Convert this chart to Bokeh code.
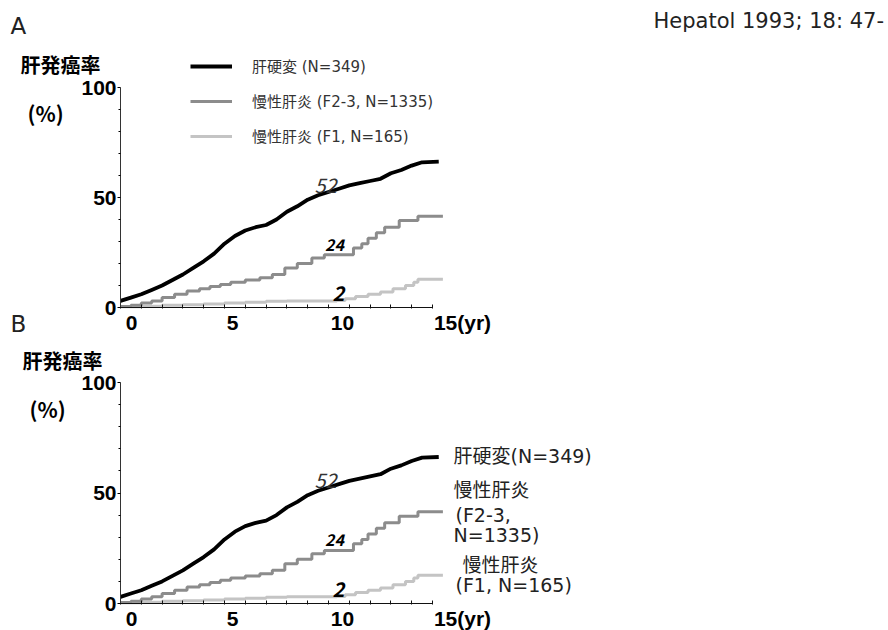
from bokeh.plotting import figure
from bokeh.models import Range1d, FixedTicker, Label, Legend, LegendItem, LinearAxis
from bokeh.layouts import column
from bokeh.embed import file_html
from bokeh.resources import INLINE
from bokeh.core.properties import value

# ---------------- data ----------------
years_lc = [0, 0.5, 1.0, 1.5, 2.0, 2.5, 3.0, 3.5, 4.0, 4.5, 5.0, 5.5, 6.0, 6.5, 7.0,
            7.5, 8.0, 8.5, 9.0, 9.5, 10.0, 10.5, 11.0, 11.5, 12.0, 12.5, 13.0, 13.5,
            14.0, 14.5, 15.3]
rate_lc = [3, 4.5, 6, 8, 10, 12.5, 15, 18, 21, 24.5, 29, 32.5, 35, 36.5, 37.5,
           40, 43.5, 46, 49, 51, 52.5, 54, 55.5, 56.5, 57.5, 58.5, 61, 62.5,
           64.5, 66, 66.3]

years_f23 = [0, 0.5, 1.0, 1.5, 2.0, 2.6, 3.2, 3.8, 4.3, 4.8, 5.3, 6.0, 6.7, 7.3, 7.9,
             8.5, 9.2, 9.8, 10.9, 11.2, 11.6, 11.9, 12.3, 12.7, 13.4, 14.3, 15.5]
rate_f23 = [0.5, 1, 2, 3, 4.5, 6, 7.5, 8.5, 9.5, 10.5, 11.5, 12.5, 13.5, 15, 18,
            20, 22.5, 24, 24, 27, 29, 31.5, 34, 36.5, 39.5, 41.5, 41.5]

years_f1 = [0, 1, 2, 3, 4, 5, 6, 7, 8, 9, 10.4, 10.8, 11.3, 11.9, 12.5, 13.1, 13.7,
            14.1, 14.3, 15.5]
rate_f1 = [0.3, 0.6, 1, 1.3, 1.6, 2, 2.4, 2.8, 3, 3, 3.2, 4, 5, 6, 7, 8.5, 10,
           11.5, 12.8, 12.8]

legend_names = ["肝硬変 (N=349)", "慢性肝炎 (F2-3, N=1335)", "慢性肝炎 (F1, N=165)"]
ten_year_x = [10, 10, 10]
ten_year_rates = [52, 24, 2]
x_ticks = [0, 5, 10, 15]
x_minor_ticks = list(range(0, 16))
x_tick_labels = ["0", "5", "10", "15(yr)"]
y_ticks = [0, 50, 100]
y_minor_ticks = [10, 20, 30, 40, 60, 70, 80, 90]
y_tick_labels = ["0", "50", "100"]

# ---------------- styling ----------------
FONT = "Noto Sans CJK JP"
FONT_MIX = "DejaVu Sans, Noto Sans CJK JP"
TICK_FONT = "Liberation Sans"
W = 888
X0_PX = 120          # page x of year 0
SX = 20.8            # px per year
X_LABEL_SHIFT = [11, 8, 14, 30]   # px shift of x tick label centres
C_LC = "#000000"
C_F23 = "#8c8c8c"
C_F1 = "#c4c4c4"
TXT = "#222222"


def make_panel(height, y0_fig, sy):
    # frame fills the whole canvas; axes are pinned at 0 with fixed_location
    x_start = -X0_PX / SX
    x_end = (W - X0_PX) / SX
    y_start = -(height - y0_fig) / sy
    y_end = y0_fig / sy
    p = figure(width=W, height=height, output_backend="svg", toolbar_location=None,
               x_range=Range1d(x_start, x_end), y_range=Range1d(y_start, y_end),
               min_border=0)
    p.outline_line_color = None
    p.xgrid.visible = False
    p.ygrid.visible = False
    p.background_fill_color = "white"
    p.border_fill_color = "white"

    # x axis: line and tick marks
    xa = p.xaxis[0]
    xa.fixed_location = 0
    xa.ticker = FixedTicker(ticks=[], minor_ticks=x_minor_ticks)
    xa.bounds = (0, 15)
    xa.axis_line_color = "#111111"
    xa.minor_tick_in = 3
    xa.minor_tick_out = 1
    xa.minor_tick_line_color = "#111111"

    # x tick labels, set slightly right of their ticks as in the original
    label_pos = [t + s / SX for t, s in zip(x_ticks, X_LABEL_SHIFT)]
    xl = LinearAxis(fixed_location=0, ticker=FixedTicker(ticks=label_pos, minor_ticks=[]),
                    major_label_overrides={pos: l for pos, l in zip(label_pos, x_tick_labels)},
                    axis_line_color=None, major_tick_line_color=None,
                    minor_tick_line_color=None, major_tick_out=0, major_tick_in=0,
                    major_label_standoff=3,
                    major_label_text_font=TICK_FONT, major_label_text_font_style="bold",
                    major_label_text_font_size="21px", major_label_text_color="#000000")
    p.add_layout(xl, "below")

    ya = p.yaxis[0]
    ya.fixed_location = 0
    ya.ticker = FixedTicker(ticks=y_ticks, minor_ticks=y_minor_ticks)
    ya.major_label_overrides = {t: l for t, l in zip(y_ticks, y_tick_labels)}
    ya.bounds = (0, 100)
    ya.axis_line_color = "#333333"
    ya.major_tick_in = 0
    ya.major_tick_out = 3
    ya.minor_tick_in = 0
    ya.minor_tick_out = 2
    ya.major_label_text_font = TICK_FONT
    ya.major_label_text_font_style = "bold"
    ya.major_label_text_font_size = "21px"
    ya.major_label_text_color = "#000000"
    ya.major_label_standoff = 1

    r_f1 = p.step(years_f1, rate_f1, mode="after", line_color=C_F1, line_width=3)
    r_f23 = p.step(years_f23, rate_f23, mode="after", line_color=C_F23, line_width=3)
    r_lc = p.line(years_lc, rate_lc, line_color=C_LC, line_width=3.8)

    p.text(x=ten_year_x[:1], y=ten_year_rates[:1], text=[str(ten_year_rates[0])],
           x_offset=-3, y_offset=-8, text_align="center", text_baseline="middle",
           text_font=value(FONT), text_font_style="italic", text_font_size="20px",
           text_color="#333333")
    p.text(x=ten_year_x[1:2], y=ten_year_rates[1:2], text=[str(ten_year_rates[1])],
           x_offset=6, y_offset=-10, text_align="center", text_baseline="middle",
           text_font=value(FONT), text_font_style="bold italic", text_font_size="16px",
           text_color="#000000")
    p.text(x=ten_year_x[2:], y=ten_year_rates[2:], text=[str(ten_year_rates[2])],
           x_offset=10, y_offset=-10, text_align="center", text_baseline="middle",
           text_font=value(FONT), text_font_style="bold italic", text_font_size="20px",
           text_color="#000000")
    return p, (r_lc, r_f23, r_f1)


def add_label(p, fig_top_page, y0_fig, sy, px, py, text, size, style="normal",
              color=TXT, font=FONT_MIX):
    # page pixel position -> data coordinates of this panel
    xd = (px - X0_PX) / SX
    yd = (y0_fig - (py - fig_top_page)) / sy
    p.add_layout(Label(x=xd, y=yd, text=text, text_font=font, text_font_size=size,
                       text_font_style=style, text_color=color, text_align="left",
                       text_baseline="middle"))


# ---------------- panel A ----------------
HA, Y0A, SYA = 340, 307, 2.2
pA, rendA = make_panel(HA, Y0A, SYA)
legend = Legend(items=[LegendItem(label=n, renderers=[r]) for n, r in zip(legend_names, rendA)],
                location=(190, HA - 146), glyph_width=42, glyph_height=20,
                label_height=20, label_standoff=20, spacing=14, padding=0, margin=0,
                border_line_color=None, background_fill_alpha=0,
                label_text_font=FONT_MIX, label_text_font_size="15px",
                label_text_color="#333333")
pA.add_layout(legend)
add_label(pA, 0, Y0A, SYA, 10, 25, "A", "23px")
add_label(pA, 0, Y0A, SYA, 653, 20, "Hepatol 1993; 18: 47-", "21px")
add_label(pA, 0, Y0A, SYA, 20, 64, "肝発癌率", "20px", "bold", "#000000", FONT)
add_label(pA, 0, Y0A, SYA, 27, 112, "(%)", "21px", "bold", "#000000", FONT)
add_label(pA, 0, Y0A, SYA, 10, 323, "B", "23px")

# ---------------- panel B ----------------
HB, Y0B, SYB = 290, 263, 2.21
pB, rendB = make_panel(HB, Y0B, SYB)
add_label(pB, HA, Y0B, SYB, 22, 360, "肝発癌率", "20px", "bold", "#000000", FONT)
add_label(pB, HA, Y0B, SYB, 29, 408, "(%)", "21px", "bold", "#000000", FONT)
add_label(pB, HA, Y0B, SYB, 453, 455, "肝硬変(N=349)", "19px")
add_label(pB, HA, Y0B, SYB, 453, 489, "慢性肝炎", "19px")
add_label(pB, HA, Y0B, SYB, 455, 514, "(F2-3,", "19px")
add_label(pB, HA, Y0B, SYB, 453, 534, "N=1335)", "19px")
add_label(pB, HA, Y0B, SYB, 462, 564, "慢性肝炎", "19px")
add_label(pB, HA, Y0B, SYB, 455, 584, "(F1, N=165)", "19px")

layout = column(pA, pB, spacing=0)
open("out.html", "w").write(file_html(layout, INLINE))
